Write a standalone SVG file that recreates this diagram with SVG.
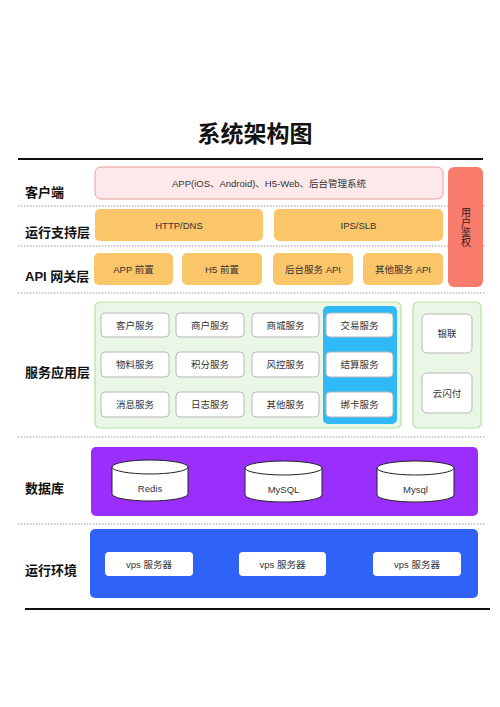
<svg xmlns="http://www.w3.org/2000/svg" width="500" height="707" viewBox="0 0 500 707">
<style>
text{font-family:"Liberation Sans","Noto Sans CJK SC",sans-serif;}
.title{font-size:23px;font-weight:bold;fill:#111;}
.lbl{font-size:13px;font-weight:bold;fill:#111;}
.t{font-size:9.5px;fill:#333;text-anchor:middle;dominant-baseline:central;}
.vt{font-size:10px;fill:#3a1a14;text-anchor:middle;dominant-baseline:central;}
.dot{stroke:#999;stroke-width:1;stroke-dasharray:1.5 1.5;fill:none;}
.solid{stroke:#111;stroke-width:2;fill:none;}
.orange{fill:#fbc56a;}
.svc{fill:#fff;stroke:#b8b8b8;stroke-width:1;}
.green{fill:#eaf6e6;stroke:#b6e2a8;stroke-width:1.2;}
.cyl{fill:#fff;stroke:#222;stroke-width:1;}
.vps{fill:#fff;}
</style>
<rect width="500" height="707" fill="#fff"/>
<text class="title" x="255" y="142" text-anchor="middle">系统架构图</text>
<g id="lines">
<line class="solid" x1="18" y1="159" x2="483" y2="159"/>
<line class="dot" x1="18" y1="206" x2="486" y2="206"/>
<line class="dot" x1="18" y1="246" x2="486" y2="246"/>
<line class="dot" x1="18" y1="293" x2="486" y2="293"/>
<line class="dot" x1="18" y1="437" x2="486" y2="437"/>
<line class="dot" x1="18" y1="524" x2="486" y2="524"/>
<line class="solid" x1="25" y1="609" x2="490" y2="609"/>
</g>
<g id="labels">
<text class="lbl" x="25" y="197">客户端</text>
<text class="lbl" x="25" y="237">运行支持层</text>
<text class="lbl" x="25" y="281">API 网关层</text>
<text class="lbl" x="25" y="377">服务应用层</text>
<text class="lbl" x="25" y="493">数据库</text>
<text class="lbl" x="25" y="575">运行环境</text>
</g>
<g id="client">
<rect x="95" y="167" width="348" height="32" rx="6" fill="#fde9e9" stroke="#ec9a9a" stroke-width="1"/>
<text class="t" x="269" y="183">APP(iOS、Android)、H5-Web、后台管理系统</text>
</g>
<g id="auth">
<rect x="448" y="167" width="35" height="120" rx="6" fill="#f87b6c"/>
<text class="vt" x="466" y="212">用</text>
<text class="vt" x="466" y="222">户</text>
<text class="vt" x="466" y="232">鉴</text>
<text class="vt" x="466" y="242">权</text>
</g>
<g id="support">
<rect class="orange" x="95" y="209" width="168" height="32" rx="5"/>
<text class="t" x="179" y="225">HTTP/DNS</text>
<rect class="orange" x="274" y="209" width="169" height="32" rx="5"/>
<text class="t" x="358.5" y="225">IPS/SLB</text>
</g>
<g id="gateway">
<rect class="orange" x="94" y="253" width="79" height="32" rx="5"/>
<text class="t" x="133.5" y="269">APP 前置</text>
<rect class="orange" x="182" y="253" width="80" height="32" rx="5"/>
<text class="t" x="222" y="269">H5 前置</text>
<rect class="orange" x="273" y="253" width="80" height="32" rx="5"/>
<text class="t" x="313" y="269">后台服务 API</text>
<rect class="orange" x="363" y="253" width="80" height="32" rx="5"/>
<text class="t" x="403" y="269">其他服务 API</text>
</g>
<g id="services">
<rect class="green" x="95" y="302" width="306" height="126" rx="5"/>
<rect x="323" y="306" width="74" height="118" rx="5" fill="#2fb9f7"/>
<rect class="svc" x="101" y="313" width="68" height="24" rx="4"/><text class="t" x="135" y="325">客户服务</text>
<rect class="svc" x="176" y="313" width="68" height="24" rx="4"/><text class="t" x="210" y="325">商户服务</text>
<rect class="svc" x="252" y="313" width="67" height="24" rx="4"/><text class="t" x="285.5" y="325">商城服务</text>
<rect class="svc" x="326" y="313" width="67" height="24" rx="4" stroke="none"/><text class="t" x="359.5" y="325">交易服务</text>
<rect class="svc" x="101" y="352" width="68" height="25" rx="4"/><text class="t" x="135" y="364.5">物料服务</text>
<rect class="svc" x="176" y="352" width="68" height="25" rx="4"/><text class="t" x="210" y="364.5">积分服务</text>
<rect class="svc" x="252" y="352" width="67" height="25" rx="4"/><text class="t" x="285.5" y="364.5">风控服务</text>
<rect class="svc" x="326" y="352" width="67" height="25" rx="4" stroke="none"/><text class="t" x="359.5" y="364.5">结算服务</text>
<rect class="svc" x="101" y="392" width="68" height="25" rx="4"/><text class="t" x="135" y="404.5">消息服务</text>
<rect class="svc" x="176" y="392" width="68" height="25" rx="4"/><text class="t" x="210" y="404.5">日志服务</text>
<rect class="svc" x="252" y="392" width="67" height="25" rx="4"/><text class="t" x="285.5" y="404.5">其他服务</text>
<rect class="svc" x="326" y="392" width="67" height="25" rx="4" stroke="none"/><text class="t" x="359.5" y="404.5">绑卡服务</text>
</g>
<g id="payment">
<rect class="green" x="413" y="302" width="68" height="126" rx="5"/>
<rect class="svc" x="422" y="314" width="50" height="39" rx="5"/><text class="t" x="447" y="333.5">银联</text>
<rect class="svc" x="422" y="373" width="50" height="40" rx="5"/><text class="t" x="447" y="393">云闪付</text>
</g>
<g id="database">
<rect x="91" y="447" width="387" height="69" rx="5" fill="#9a2ffd"/>
<g id="redis">
<path class="cyl" d="M112 467 V494 A38 7 0 0 0 188 494 V467"/>
<ellipse class="cyl" cx="150" cy="467" rx="38" ry="7"/>
<text class="t" x="150" y="488">Redis</text>
</g>
<g id="mysql1">
<path class="cyl" d="M245 468 V495 A38.5 7 0 0 0 322 495 V468"/>
<ellipse class="cyl" cx="283.5" cy="468" rx="38.5" ry="7"/>
<text class="t" x="283.5" y="489">MySQL</text>
</g>
<g id="mysql2">
<path class="cyl" d="M377 468 V495 A38.5 7 0 0 0 454 495 V468"/>
<ellipse class="cyl" cx="415.5" cy="468" rx="38.5" ry="7"/>
<text class="t" x="415.5" y="489">Mysql</text>
</g>
</g>
<g id="runtime">
<rect x="90" y="529" width="388" height="69" rx="5" fill="#2f63f7"/>
<rect class="vps" x="105" y="552" width="88" height="24" rx="4"/><text class="t" x="149" y="564">vps 服务器</text>
<rect class="vps" x="239" y="552" width="87" height="24" rx="4"/><text class="t" x="282.5" y="564">vps 服务器</text>
<rect class="vps" x="373" y="552" width="88" height="24" rx="4"/><text class="t" x="417" y="564">vps 服务器</text>
</g>
</svg>
